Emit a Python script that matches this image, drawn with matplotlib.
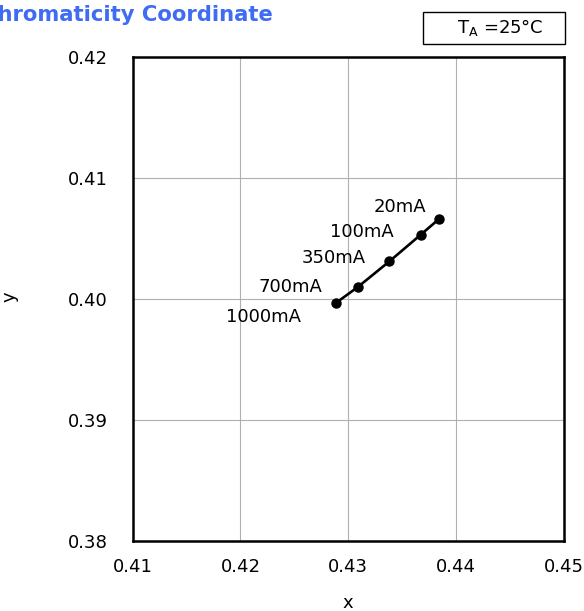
import matplotlib
matplotlib.use("Agg")
import matplotlib.pyplot as plt
from matplotlib.patches import Rectangle

# chromaticity points per drive current
currents = ["20mA", "100mA", "350mA", "700mA", "1000mA"]
cie_x = [0.4384, 0.4367, 0.4338, 0.4309, 0.4289]
cie_y = [0.4066, 0.4053, 0.4031, 0.4010, 0.3997]

x_ticks = [0.41, 0.42, 0.43, 0.44, 0.45]
y_ticks = [0.38, 0.39, 0.40, 0.41, 0.42]

# label offsets (points) relative to each marker
label_offsets = [(-9.4, 5.5), (-19.4, -1.7), (-16.8, -1.2), (-25.9, -4.0), (-25.2, -13.7)]

plt.rcParams['font.family'] = ['DejaVu Sans']

W, H = 584, 611
fig = plt.figure(figsize=(W / 100, H / 100), dpi=100)
ax = fig.add_axes([132.5 / W, 1 - 541 / H, (564 - 132.5) / W, (541 - 57) / H])

ax.plot(cie_x, cie_y, color='black', lw=1.9, marker='o', markersize=6.5, zorder=3)
for name, px, py, off in zip(currents, cie_x, cie_y, label_offsets):
    ax.annotate(name, (px, py), xytext=off, textcoords='offset points',
                ha='right', va='baseline', fontsize=13)

ax.set_xlim(0.41, 0.45)
ax.set_ylim(0.38, 0.42)
ax.set_xticks(x_ticks)
ax.set_yticks(y_ticks)
ax.set_xticklabels([f"{v:.2f}" for v in x_ticks])
ax.set_yticklabels([f"{v:.2f}" for v in y_ticks])
ax.tick_params(length=0, labelsize=13)
ax.tick_params(axis='x', pad=12)
ax.tick_params(axis='y', pad=18)
ax.grid(True, color='#b0b0b0', lw=0.8)
ax.set_axisbelow(True)
for sp in ax.spines.values():
    sp.set_linewidth(1.8)

ax.set_xlabel("x", fontsize=13)
ax.set_ylabel("y", fontsize=13)
ax.xaxis.set_label_coords(0.5, -0.128)
ax.xaxis.label.set_va('center')
ax.yaxis.set_label_coords(-0.284, 0.504)
ax.yaxis.label.set_va('center')

# title runs off the left edge in the original
fig.text(273 / W, 1 - 21 / H, "Chromaticity Coordinate", ha='right', va='baseline',
         fontsize=15.2, fontweight='bold', color='#3f6cf2')

fig.patches.append(Rectangle((423 / W, 1 - 44 / H), (565 - 423) / W, 32 / H,
                             transform=fig.transFigure, fill=False, lw=1.0,
                             edgecolor='black'))
fig.text(500 / W, 1 - 28 / H, r"T$_\mathregular{A}$ =25°C", ha='center', va='center', fontsize=13)

fig.savefig("out.png", dpi=100)
